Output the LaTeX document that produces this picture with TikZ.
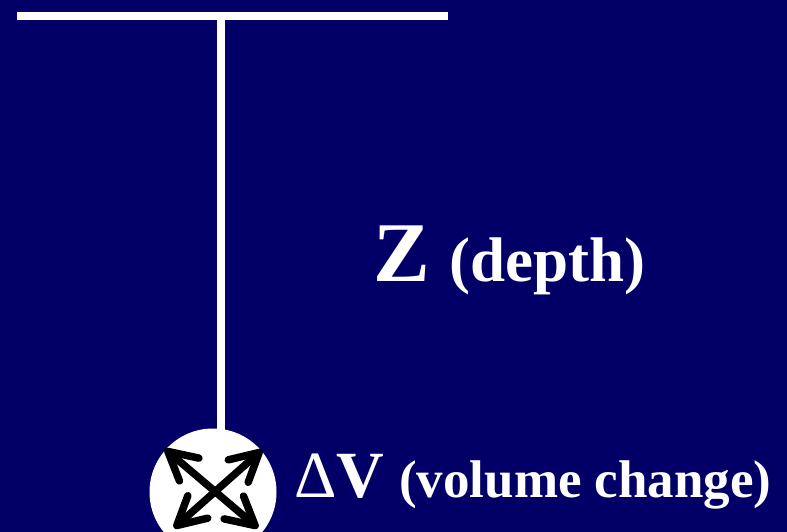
\documentclass[tikz,border=0pt]{standalone}
\usepackage{fontspec}
\setmainfont{Liberation Serif}
\usetikzlibrary{arrows.meta}
\definecolor{navy}{HTML}{020066}
\tikzset{
  bar/.style={draw=white,line width=8bp},
  dirarrow/.style={draw=black,line width=7.5bp,line cap=round,
    {Straight Barb[length=28bp,width=30bp,round]}-{Straight Barb[length=28bp,width=30bp,round]}},
  lbl/.style={text=white,inner sep=0pt,anchor=base west,font=\bfseries}
}
\begin{document}
\begin{tikzpicture}[x=1bp,y=-1bp]
\useasboundingbox (0,0) rectangle (787,532);
\clip (0,0) rectangle (787,532);
\fill[navy] (0,0) rectangle (787,532);
% hanger
\coordinate (hl) at (17,16);
\coordinate (hr) at (448,16);
\coordinate (vt) at (221,16);
\coordinate (vb) at (221,440);
\draw[bar] (hl) -- (hr);
\draw[bar] (vt) -- (vb);
% volume element
\node[circle,fill=white,minimum size=127bp,inner sep=0pt] (ball) at (213,492) {};
\coordinate (tl) at (165,449);
\coordinate (br) at (258,528);
\coordinate (tr) at (262,450);
\coordinate (bl) at (174,528);
\draw[dirarrow] (tl) -- (br);
\draw[dirarrow] (tr) -- (bl);
% labels
\node[lbl,font=\bfseries\fontsize{85bp}{85bp}\selectfont] (z) at (373,282) {Z};
\node[lbl,font=\bfseries\fontsize{63bp}{63bp}\selectfont] (depth) at (449,282) {(depth)};
\node[lbl,font=\fontsize{66bp}{66bp}\selectfont] (dv) at (294,497) {Δ\textbf{V}};
\node[lbl,font=\bfseries\fontsize{53bp}{53bp}\selectfont] (vc) at (399,497) {(volume change)};
\end{tikzpicture}
\end{document}
